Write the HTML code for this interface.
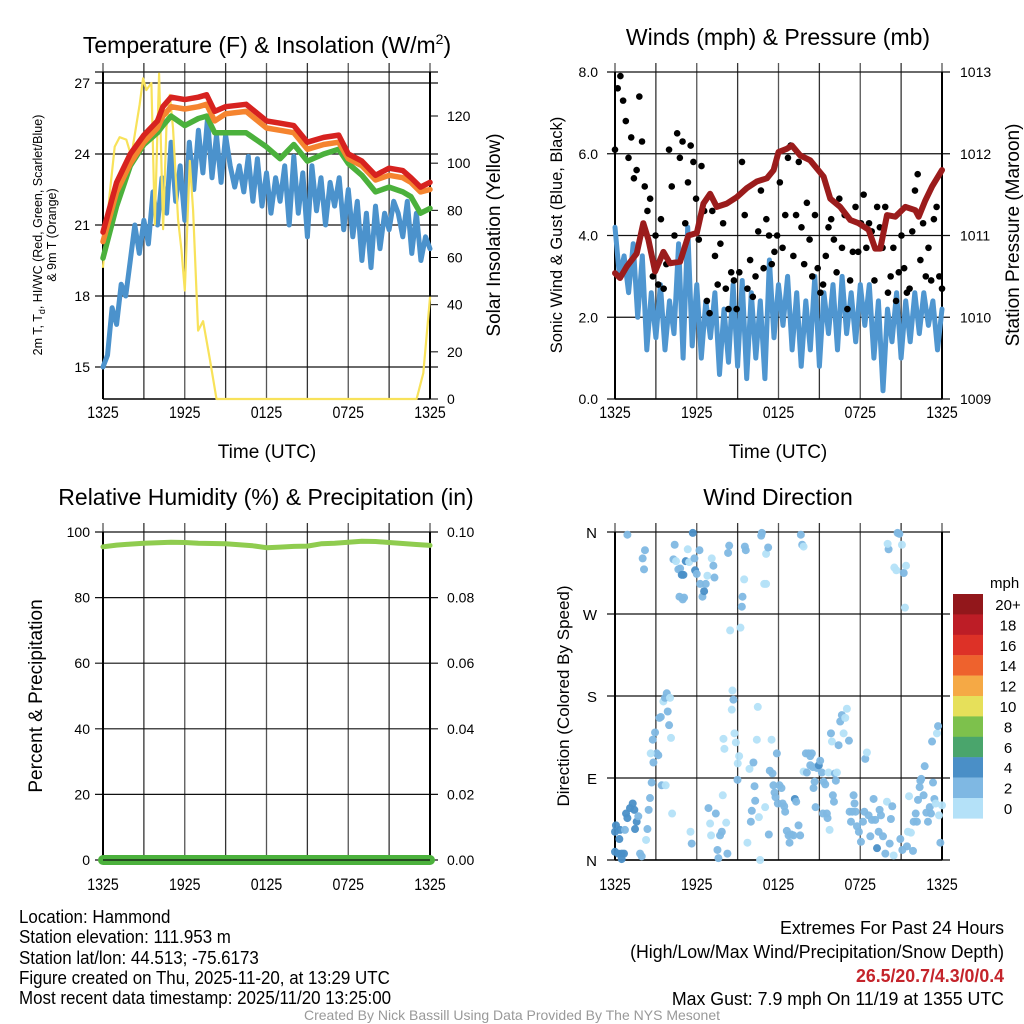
<!DOCTYPE html>
<html><head><meta charset="utf-8"><style>
html,body{margin:0;padding:0;background:#fff;}
svg{display:block;font-family:"Liberation Sans",sans-serif;}
</style></head><body>
<svg id="c" width="1024" height="1024" viewBox="0 0 1024 1024" xmlns="http://www.w3.org/2000/svg">
<rect width="1024" height="1024" fill="#fff"/>
<g id="g1"></g>
<g id="g2"></g>
<g id="g3"></g>
<g id="g4"></g>
<text x="267" y="53" font-size="23" text-anchor="middle">Temperature (F) &amp; Insolation (W/m<tspan font-size="14" dy="-9">2</tspan><tspan dy="9">)</tspan></text>
<text x="778" y="45" font-size="23" text-anchor="middle">Winds (mph) &amp; Pressure (mb)</text>
<text x="266" y="505" font-size="23" text-anchor="middle">Relative Humidity (%) &amp; Precipitation (in)</text>
<text x="778" y="505" font-size="23" text-anchor="middle">Wind Direction</text>
<text x="267" y="458" font-size="19" text-anchor="middle">Time (UTC)</text>
<text x="778" y="458" font-size="19" text-anchor="middle">Time (UTC)</text>
<text transform="translate(42,235) rotate(-90)" font-size="12.5" text-anchor="middle">2m T, T<tspan font-size="9" dy="3">d</tspan><tspan dy="-3">, HI/WC (Red, Green, Scarlet/Blue)</tspan></text>
<text transform="translate(56,235) rotate(-90)" font-size="12.5" text-anchor="middle">&amp; 9m T (Orange)</text>
<text transform="translate(500,235) rotate(-90)" font-size="19" text-anchor="middle">Solar Insolation (Yellow)</text>
<text transform="translate(562,235) rotate(-90)" font-size="16.5" text-anchor="middle">Sonic Wind &amp; Gust (Blue, Black)</text>
<text transform="translate(1019,235) rotate(-90)" font-size="19" text-anchor="middle">Station Pressure (Maroon)</text>
<text transform="translate(42,696) rotate(-90)" font-size="19" text-anchor="middle">Percent &amp; Precipitation</text>
<text transform="translate(569,696) rotate(-90)" font-size="17" text-anchor="middle">Direction (Colored By Speed)</text>
<g transform="translate(19,0) scale(0.915,1)" font-size="18.5">
<text x="0" y="923">Location: Hammond</text>
<text x="0" y="943">Station elevation: 111.953 m</text>
<text x="0" y="964">Station lat/lon: 44.513; -75.6173</text>
<text x="0" y="984">Figure created on Thu, 2025-11-20, at 13:29 UTC</text>
<text x="0" y="1004">Most recent data timestamp: 2025/11/20 13:25:00</text>
</g>
<g transform="translate(1004,0) scale(0.96,1)" font-size="18.5" text-anchor="end">
<text x="0" y="934">Extremes For Past 24 Hours</text>
<text x="0" y="958">(High/Low/Max Wind/Precipitation/Snow Depth)</text>
<text x="0" y="982" fill="#c4242b" font-weight="bold">26.5/20.7/4.3/0/0.4</text>
<text x="0" y="1005">Max Gust: 7.9 mph On 11/19 at 1355 UTC</text>
</g>
<text x="512" y="1020" font-size="14" fill="#999" text-anchor="middle">Created By Nick Bassill Using Data Provided By The NYS Mesonet</text>
</svg>
<script>
const xTickLabels=["1325","1925","0125","0725","1325"];
const hourT=[0,1,2,3,4,4.4,5,6,7,7.6,8.2,9,10.5,12,13,14,15,16.2,17.3,18,19,20,21,22,22.6,23.3,24];
const redT=[20.7,22.8,24.0,24.8,25.4,26.0,26.4,26.3,26.4,26.5,25.8,26.0,26.1,25.4,25.3,25.2,24.5,24.7,24.8,24.0,23.7,23.1,23.4,23.3,23.0,22.6,22.8];
const orangeT=[20.3,22.4,23.6,24.5,25.1,25.6,26.0,25.9,26.0,26.1,25.4,25.7,25.8,25.1,25.0,24.9,24.2,24.4,24.5,23.8,23.5,22.9,23.1,23.0,22.8,22.4,22.5];
const greenT=[19.6,21.8,23.5,24.4,24.9,25.2,25.6,25.2,25.5,25.6,24.9,24.9,24.9,24.3,23.8,24.4,23.7,24.0,24.2,23.6,23.1,22.4,22.6,22.4,22.2,21.5,21.7];
const dewT=[15.0,15.5,17.5,16.8,18.5,18.0,19.5,21.0,19.8,21.2,20.2,22.4,21.0,23.0,21.5,24.5,22.0,23.5,21.2,24.5,22.5,25.0,23.2,25.5,23.0,24.8,22.8,24.8,23.5,22.6,23.5,22.4,23.9,22.0,23.8,21.8,23.2,21.5,23.0,22.0,23.5,21.0,23.9,21.5,23.2,20.5,23.5,21.6,23.0,21.0,22.8,21.8,23.0,20.8,22.5,20.5,22.0,19.5,21.5,19.2,21.8,20.0,21.5,20.8,22.0,21.5,20.5,22.0,19.8,21.5,19.5,20.5,20.0];
const solarT=[0,0.49,0.86,1.22,1.71,2.08,2.69,2.94,3.18,3.55,3.80,4.12,4.41,4.65,4.90,5.14,5.51,5.76,6.00,6.37,6.61,6.98,7.35,7.84,8.33,23.02,23.51,24.0];
const solarW=[56,87,107,111,110,103,125,136,131,134,74,138,72,115,129,115,76,63,46,101,80,29,33,17,0,0,11,43];
const windV=[4.2,3.0,3.5,2.6,3.8,2.0,3.5,1.2,2.6,1.5,2.8,1.2,2.4,1.6,3.8,1.0,4.2,1.3,2.8,1.0,2.4,1.5,2.6,0.6,2.2,0.9,2.8,0.8,2.9,0.5,2.6,1.0,2.4,0.5,3.4,1.5,2.8,1.8,3.0,1.2,2.6,0.8,2.4,1.2,3.0,0.8,2.6,1.6,2.8,1.2,3.0,1.6,2.6,1.4,2.8,1.8,2.8,1.0,2.4,0.2,2.2,1.4,2.6,1.0,2.4,1.4,2.6,1.6,2.6,1.8,2.4,1.2,2.2];
const gustV=[6.1,7.6,7.9,7.3,6.8,5.9,6.4,5.4,5.6,7.4,6.3,5.2,4.6,4.9,3.0,4.0,2.8,4.4,2.7,3.3,6.1,5.2,4.0,6.5,5.9,6.3,4.3,5.3,6.2,5.8,4.9,3.9,5.7,4.6,2.4,2.1,4.6,3.5,2.8,3.8,4.3,2.7,2.2,3.1,2.9,2.2,3.1,5.8,4.5,2.7,3.4,2.5,3.0,4.1,5.1,3.2,4.4,4.0,3.3,3.6,4.0,5.3,3.7,4.5,5.9,6.2,3.5,4.5,5.8,4.2,3.3,4.8,3.9,3.0,4.5,3.2,2.6,2.8,3.5,4.2,4.4,3.9,3.1,4.9,3.7,4.5,2.2,2.9,3.6,4.7,3.6,4.3,5.0,3.7,4.3,4.1,2.9,4.7,4.2,3.7,4.7,2.6,3.0,3.7,2.4,3.1,4.0,3.2,2.6,2.7,4.1,5.1,5.5,3.4,4.3,3.0,3.7,2.9,4.4,4.7,3.0,2.7];
const presT=[0,0.37,0.86,1.59,2.08,2.45,2.94,3.55,4.04,4.78,5.39,6.00,6.49,6.98,7.47,8.2,8.94,9.67,10.41,11.15,11.64,12.0,12.61,12.98,13.59,14.33,14.82,15.31,15.80,16.53,17.27,17.88,18.61,19.10,19.47,19.96,20.57,21.31,22.04,22.29,22.78,23.27,24.0];
const presP=[1010.54,1010.48,1010.62,1010.78,1011.15,1010.95,1010.56,1010.80,1010.66,1010.68,1011.0,1011.03,1011.39,1011.51,1011.35,1011.39,1011.47,1011.58,1011.66,1011.70,1011.80,1012.02,1012.06,1012.10,1011.98,1011.92,1011.82,1011.72,1011.45,1011.35,1011.19,1011.15,1011.07,1010.84,1010.84,1011.25,1011.23,1011.35,1011.31,1011.23,1011.43,1011.60,1011.80];
const rhV=[95.5,96,96.3,96.6,96.7,96.9,96.8,96.6,96.5,96.4,96.1,95.8,95.2,95.4,95.6,95.7,96.4,96.6,96.9,97.2,97.1,96.8,96.5,96.2,95.9];
const precipV=[0,0,0,0,0,0,0,0,0,0,0,0,0,0,0,0,0,0,0,0,0,0,0,0,0];
const dirT=[0,0.07,0.37,0.32,0,0.24,0.49,0.66,0.49,0.73,0.81,0.91,1.10,1.30,1.42,1.59,1.47,1.71,1.84,1.96,2.28,2.38,2.47,2.57,2.69,2.82,2.77,2.94,3.06,3.18,2.62,3.26,3.36,3.55,3.67,3.80,4.04,3.87,3.97,4.11,3.43,3.72,4.19,0.91,2.03,2.20,2.13,4.38,4.29,4.48,4.65,4.78,4.90,5.02,5.19,5.34,5.44,4.73,5.07,4.97,5.71,5.83,5.88,6.00,6.20,6.25,6.42,6.54,6.66,6.78,7.10,7.22,7.30,5.54,5.63,6.86,6.98,7.05,7.40,7.52,7.59,7.71,7.84,8.16,8.25,7.91,7.96,8.03,8.30,8.38,8.45,8.62,8.69,8.57,8.77,8.87,9.11,9.01,8.99,9.21,9.31,9.36,9.48,9.53,9.60,9.72,9.87,9.97,10.04,10.16,10.24,10.29,10.48,10.41,10.56,10.65,10.73,10.78,10.95,11.09,11.09,11.24,11.02,11.29,11.36,11.49,11.56,11.63,11.71,11.78,11.88,11.95,12.07,12.22,12.30,12.42,12.49,12.61,12.74,12.81,12.93,13.10,13.20,13.30,13.47,13.59,13.64,13.74,13.84,13.84,14.01,14.08,14.21,14.33,14.45,14.33,14.52,14.57,14.65,14.72,14.82,14.96,15.06,15.18,15.31,15.43,15.26,15.55,15.60,15.75,15.67,15.85,15.92,15.99,16.07,16.14,16.21,16.29,16.41,16.53,16.65,16.78,16.90,17.02,17.17,17.22,17.32,17.41,17.51,17.58,17.66,17.76,17.90,18.05,18.20,18.30,18.37,18.49,18.61,18.74,18.86,18.98,19.10,19.23,19.35,19.42,19.52,19.67,19.84,19.96,20.08,20.01,20.16,20.25,20.35,20.45,20.50,20.65,20.74,20.87,20.94,21.06,21.09,21.19,21.28,21.36,21.43,21.50,21.58,21.72,21.87,21.92,22.07,22.16,22.24,22.36,22.41,22.48,22.65,22.73,22.85,22.97,23.10,23.19,23.27,23.34,23.44,23.54,23.63,23.71,23.78,23.88,24.0];
const dirDeg=[31,38,33,23,9,7,7,7,1,33,51,46,57,62,55,42,34,48,7,4,22,34,55,68,85,107,132,140,117,115,117,156,157,174,178,183,178,163,148,134,82,82,51,357,331,340,319,346,330,328,319,320,313,313,328,341,327,289,288,286,359,331,318,314,340,303,289,295,303,312,331,323,310,31,18,57,40,27,51,11,2,27,31,41,7,71,133,122,337,345,252,186,176,165,139,129,114,106,88,255,278,289,308,344,340,19,100,42,54,107,81,65,168,132,47,0,356,359,303,303,336,343,58,28,98,132,95,82,74,69,117,62,82,79,62,59,53,32,27,19,28,27,67,64,38,27,357,346,344,97,117,96,117,114,117,104,102,79,86,58,101,104,109,96,86,83,51,51,46,33,96,139,130,71,64,95,87,96,126,152,159,139,156,166,131,53,42,53,71,62,53,37,31,20,42,53,111,118,49,26,44,67,44,13,31,55,49,26,7,64,341,347,18,45,59,5,321,318,359,358,23,346,11,315,277,323,15,31,70,30,10,42,51,42,66,80,87,89,71,103,52,42,58,51,130,85,67,62,139,147,49,19,60];
const dirSpd=[5,5,5,5,5,5,5,5,5,3,5,5,5,5,5,5,5,3,3,3,1,3,3,3,3,3,3,3,3,3,1,3,3,1,3,3,1,3,3,1,3,1,1,3,3,3,3,3,3,1,3,3,5,5,5,1,1,3,3,3,5,3,5,3,3,3,3,5,3,1,1,3,3,1,3,3,1,1,3,3,3,3,3,1,3,1,1,1,3,3,1,1,3,1,1,1,1,1,3,1,3,3,1,3,3,1,1,3,3,3,3,3,1,1,1,1,3,3,1,1,1,3,1,3,3,1,3,3,3,3,3,3,3,3,3,3,3,3,3,3,3,3,5,3,3,3,3,3,1,1,3,3,3,3,3,3,3,3,3,3,3,5,3,3,3,3,3,3,3,1,1,3,1,3,3,3,3,1,3,3,3,1,1,1,3,3,3,3,3,3,3,3,3,3,3,3,3,1,3,3,3,3,3,5,3,3,3,3,3,1,3,1,3,3,3,1,1,1,3,3,3,1,3,3,1,1,3,1,1,1,3,3,3,3,3,3,3,3,3,3,3,3,3,3,3,3,3,1,1,3,1,3,1];
const cbLabels=["20+","18","16","14","12","10","8","6","4","2","0"];
const cbColors=["#92171b","#bd1d26","#dd3127","#ee622d","#f5a945","#e6e05a","#7dc14c","#4aa56c","#4a8fc7","#7fb8e3","#b4e1f8"];

const NS="http://www.w3.org/2000/svg";
function mk(p,tag,at){const e=document.createElementNS(NS,tag);for(const k in at)e.setAttribute(k,at[k]);p.appendChild(e);return e;}
function txt(p,x,y,s,size,anchor,narrow){
  let e;
  if(narrow){e=mk(p,"text",{x:0,y:0,"font-size":size,"text-anchor":anchor,transform:"translate("+x+","+y+") scale(0.86,1)"});}
  else e=mk(p,"text",{x:x,y:y,"font-size":size,"text-anchor":anchor});
  e.textContent=s;return e;}
function xs(x0,x1){return t=>x0+t/24*(x1-x0);}
function linear(v0,y0,v1,y1){return v=>y0+(v-v0)*(y1-y0)/(v1-v0);}
function poly(p,ts,vs,fx,fy,col,w,name){
  const pts=ts.map((t,i)=>fx(t).toFixed(1)+","+fy(vs[i]).toFixed(1)).join(" ");
  const e=mk(p,"polyline",{points:pts,fill:"none",stroke:col,"stroke-width":w,"stroke-linejoin":"round","stroke-linecap":"round"});
  
  
  return e;
}
function evenT(n){return Array.from({length:n},(_,i)=>i*24/(n-1));}
function frame(p,x0,x1,yT,yB,hLines,vTop,labOff){
  const fx=xs(x0,x1);
  for(let i=0;i<=8;i++){const x=fx(i*3);const l=mk(p,"line",{x1:x,x2:x,y1:vTop,y2:yB,stroke:(i%2?"#333":"#555"),"stroke-width":1.3});
    
    }
  hLines.forEach(y=>{const l=mk(p,"line",{x1:x0-8,x2:x1+8,y1:y,y2:y,stroke:"#111","stroke-width":1.2});
    
    });
  mk(p,"line",{x1:x0,x2:x0,y1:yT,y2:yB,stroke:"#000","stroke-width":2});
  mk(p,"line",{x1:x1,x2:x1,y1:yT,y2:yB,stroke:"#000","stroke-width":2});
  mk(p,"line",{x1:x0,x2:x1,y1:yB,y2:yB,stroke:"#000","stroke-width":1.5});
  xTickLabels.forEach((s,i)=>{const t=txt(p,fx(i*6),yB+labOff,s,16.5,"middle",true);
    
    });
  return fx;
}
// Panel 1
(function(){
  const g=document.getElementById("g1");
  const yT=linear(27,83,24,154), yS=linear(0,399,120,116);
  const fx=frame(g,103,430,72,399,[15,18,21,24,27].map(yT).concat([72]),63,19);
  [15,18,21,24,27].forEach(v=>{const t=txt(g,90,yT(v)+5,v,14,"end");});
  [0,20,40,60,80,100,120].forEach(v=>{mk(g,"line",{x1:430,x2:438,y1:yS(v),y2:yS(v),stroke:"#000"});const t=txt(g,447,yS(v)+5,v,14,"start");});
  poly(g,evenT(dewT.length),dewT,fx,yT,"#4b92cc",5,"dewpoint-line");
  poly(g,solarT,solarW,fx,yS,"#f8e25a",2.2,"solar-line");
  poly(g,hourT,greenT,fx,yT,"#4bb13c",5.5,"green-temp-line");
  poly(g,hourT,orangeT,fx,yT,"#f5842f",5.5,"orange-9m-temp-line");
  poly(g,hourT,redT,fx,yT,"#d7221f",5.5,"red-heat-index-line");
})();
// Panel 2
(function(){
  const g=document.getElementById("g2");
  const yW=linear(0,399,8,72), yP=linear(1009,399,1013,72);
  const fx=frame(g,615,942,72,399,[0,2,4,6,8].map(yW),63,19);
  [0,2,4,6,8].forEach(v=>{const t=txt(g,598,yW(v)+5,v.toFixed(1),14,"end");});
  [1009,1010,1011,1012,1013].forEach(v=>{const t=txt(g,960,yP(v)+5,v,14,"start");});
  poly(g,evenT(windV.length),windV,fx,yW,"#4f96d0",5,"sonic-wind-line");
  const gt=evenT(gustV.length);
  gustV.forEach((v,i)=>{const c=mk(g,"circle",{cx:fx(gt[i]),cy:yW(v),r:3.3,fill:"#000"});
    
    });
  poly(g,presT,presP,fx,yP,"#9b1c1c",6,"pressure-line");
})();
// Panel 3
(function(){
  const g=document.getElementById("g3");
  const yR=linear(0,860,100,532), yPr=linear(0,860,0.1,532);
  const fx=frame(g,103,430,532,860,[0,20,40,60,80,100].map(yR),523,30);
  [0,20,40,60,80,100].forEach(v=>{const t=txt(g,90,yR(v)+5,v,14,"end");});
  [0,0.02,0.04,0.06,0.08,0.1].forEach(v=>{const t=txt(g,447,yPr(v)+5,v.toFixed(2),14,"start");});
  poly(g,evenT(rhV.length),rhV,fx,yR,"#8fcc4f",5,"rh-line");
  poly(g,evenT(precipV.length),precipV,fx,yPr,"#4bb13c",10,"precip-line");
  mk(g,"line",{x1:103,x2:430,y1:860,y2:860,stroke:"#111","stroke-width":1.2});
})();
// Panel 4
(function(){
  const g=document.getElementById("g4");
  const yD=linear(0,860,360,532);
  const fx=frame(g,615,942,532,860,[0,90,180,270,360].map(yD),523,30);
  ["N","E","S","W","N"].forEach((s,i)=>{const t=txt(g,597,yD(i*90)+6,s,15,"end");});
  function col(s){const b=Math.min(10,Math.floor(s/2));return cbColors[10-b];}
  dirT.forEach((t,i)=>{const c=mk(g,"circle",{cx:fx(t),cy:yD(dirDeg[i]),r:4,fill:col(dirSpd[i]),"fill-opacity":0.95});
    
    });
  const lt=txt(g,990,588,"mph",15,"start");
  cbLabels.forEach((s,i)=>{const y=594+i*20.4;
    const r=mk(g,"rect",{x:953,y:y,width:30,height:20.6,fill:cbColors[i]});
    
    
    const t=txt(g,1008,y+16,s,15,"middle");
    
    });
})();
</script>
</body></html>
